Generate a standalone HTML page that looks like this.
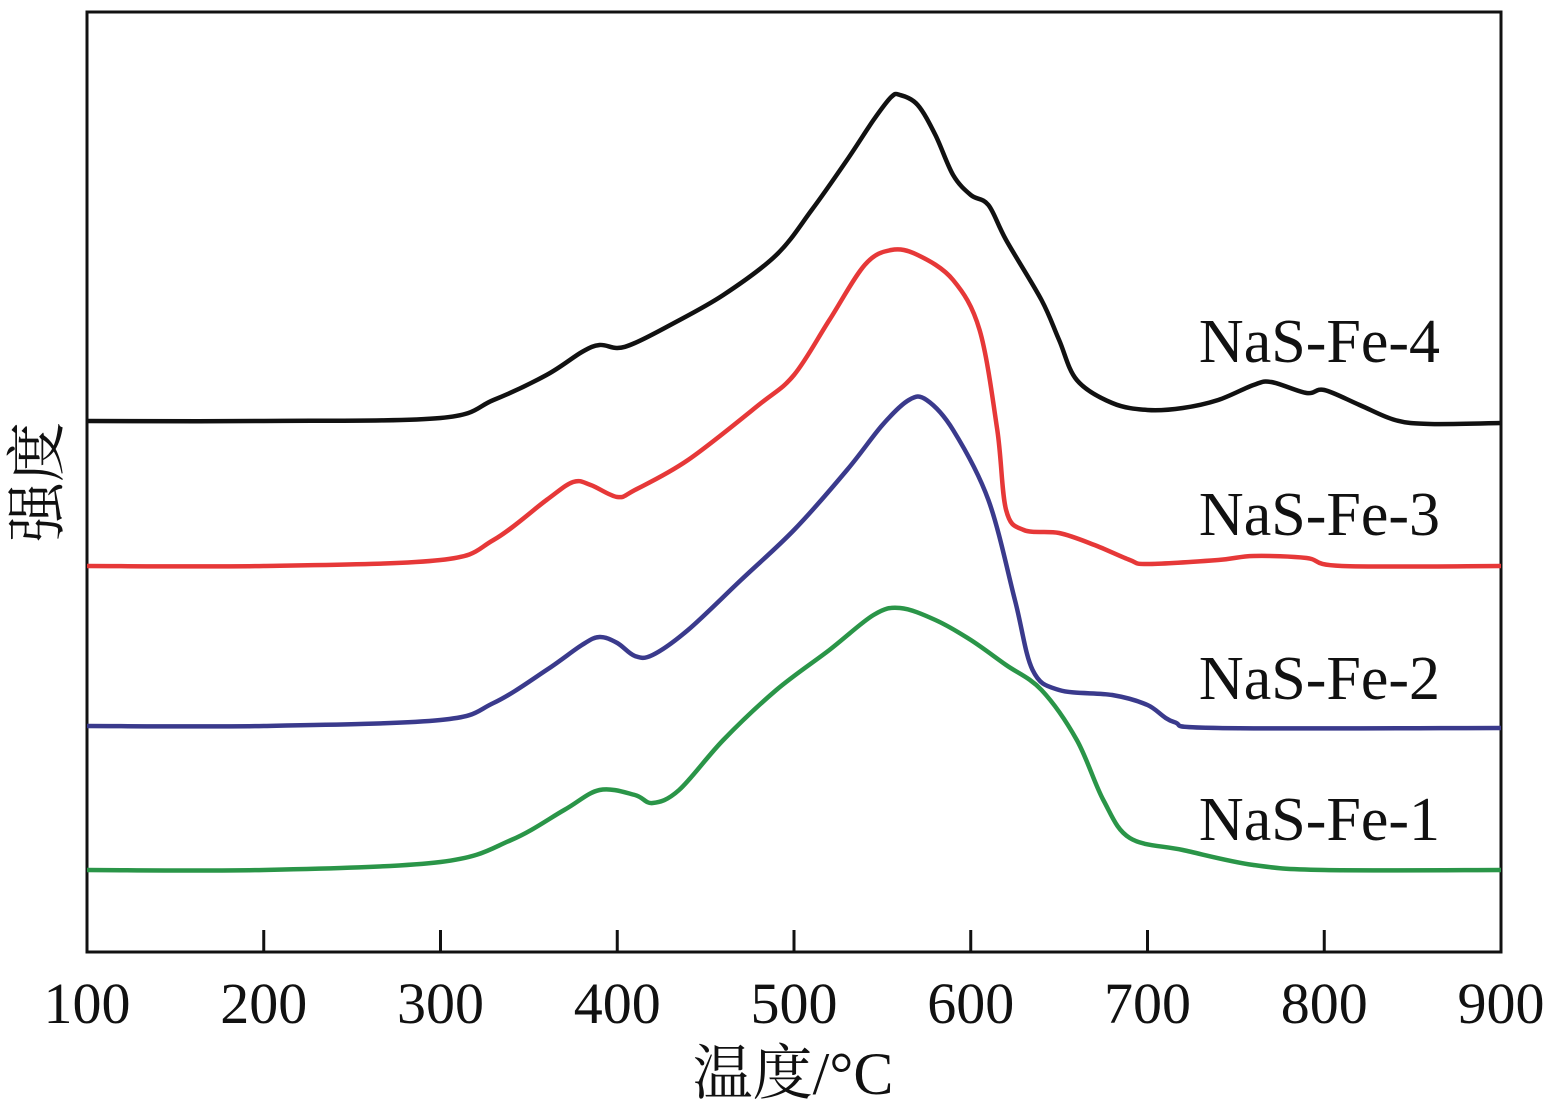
<!DOCTYPE html>
<html><head><meta charset="utf-8"><style>
body{margin:0;background:#fff;}
svg{display:block;}
text{font-family:"Liberation Serif","Noto Serif CJK SC",serif;fill:#111;}
</style></head><body>
<svg id="chart" width="1562" height="1104" viewBox="0 0 1562 1104" xmlns="http://www.w3.org/2000/svg">
<rect x="87" y="12" width="1414" height="940" fill="none" stroke="#111" stroke-width="3"/>
<g id="ticks"></g>
<g id="series"></g>
<text x="793" y="1094" font-size="60" text-anchor="middle">温度/°C</text>
<text transform="translate(58,482) rotate(-90)" font-size="60" text-anchor="middle">强度</text>
</svg>
<script>
const xTicks=[100,200,300,400,500,600,700,800,900];
const names=["NaS-Fe-4","NaS-Fe-3","NaS-Fe-2","NaS-Fe-1"];
const colors=["#111111","#e63838","#3a3a8c","#2a9548"];
const t4=[100,200,300,330,360,380,390,400,410,430,460,490,510,530,545,555,560,570,580,590,600,610,620,640,650,660,680,700,720,740,760,770,790,800,820,840,860,900];
const v4=[531,531,534,552,577,600,607,604,609,627,657,697,742,792,832,855,857,847,817,777,757,747,712,652,612,572,549,542,544,552,567,570,559,562,547,532,528,529];
const t3=[100,200,300,330,360,375,385,400,410,440,480,500,520,540,555,570,590,605,615,620,630,650,670,690,700,740,760,790,810,900];
const v3=[386,386,392,412,452,470,467,455,462,492,547,577,632,687,702,697,672,622,522,442,422,419,407,392,388,392,396,394,386,386];
const t2=[100,200,300,330,360,380,390,400,410,420,440,470,500,530,550,565,575,590,610,625,635,650,680,700,715,740,900];
const v2=[226,226,232,249,282,307,315,309,296,297,322,372,422,482,527,552,552,522,452,352,282,262,257,247,230,224,224];
const t1=[100,200,300,340,370,390,410,420,435,460,490,520,545,560,580,600,620,640,660,675,690,720,760,800,900];
const v1=[82,82,90,112,142,162,157,149,162,212,262,302,337,344,332,312,287,262,212,152,114,102,87,82,82];
const temps=[t4,t3,t2,t1], vals=[v4,v3,v2,v1];
const labelPos=[[1440,362],[1440,535],[1440,699],[1440,840]];
const X=t=>87+(t-100)*1414/800;
const Y=v=>952-v;
const NS="http://www.w3.org/2000/svg";
const tg=document.getElementById('ticks');
xTicks.forEach(t=>{
  if(t>100&&t<900){const l=document.createElementNS(NS,'line');
  l.setAttribute('x1',X(t));l.setAttribute('x2',X(t));l.setAttribute('y1',930);l.setAttribute('y2',952);
  l.setAttribute('stroke','#111');l.setAttribute('stroke-width','3');
  
  
  tg.appendChild(l);}
  const tx=document.createElementNS(NS,'text');
  tx.setAttribute('x',X(t));tx.setAttribute('y',1023);tx.setAttribute('font-size','58');tx.setAttribute('text-anchor','middle');
  tx.textContent=t;
  
  
  tg.appendChild(tx);
});
function smooth(pts){
  let d='M'+pts[0][0]+','+pts[0][1];
  for(let i=0;i<pts.length-1;i++){
    const p0=pts[Math.max(i-1,0)],p1=pts[i],p2=pts[i+1],p3=pts[Math.min(i+2,pts.length-1)];
    const c1=[p1[0]+(p2[0]-p0[0])/6,p1[1]+(p2[1]-p0[1])/6];
    const c2=[p2[0]-(p3[0]-p1[0])/6,p2[1]-(p3[1]-p1[1])/6];
    d+=' C'+c1[0].toFixed(1)+','+c1[1].toFixed(1)+' '+c2[0].toFixed(1)+','+c2[1].toFixed(1)+' '+p2[0].toFixed(1)+','+p2[1].toFixed(1);
  }
  return d;
}
const sg=document.getElementById('series');
names.forEach((n,i)=>{
  const pts=temps[i].map((t,j)=>[X(t),Y(vals[i][j])]);
  const p=document.createElementNS(NS,'path');
  p.setAttribute('d',smooth(pts));p.setAttribute('fill','none');p.setAttribute('stroke',colors[i]);
  p.setAttribute('stroke-width','4.5');p.setAttribute('stroke-linejoin','round');
  
  
  sg.appendChild(p);
  const tx=document.createElementNS(NS,'text');
  tx.setAttribute('x',labelPos[i][0]);tx.setAttribute('y',labelPos[i][1]);tx.setAttribute('font-size','62');tx.setAttribute('text-anchor','end');
  tx.textContent=n;
  
  
  sg.appendChild(tx);
});
</script>
</body></html>
